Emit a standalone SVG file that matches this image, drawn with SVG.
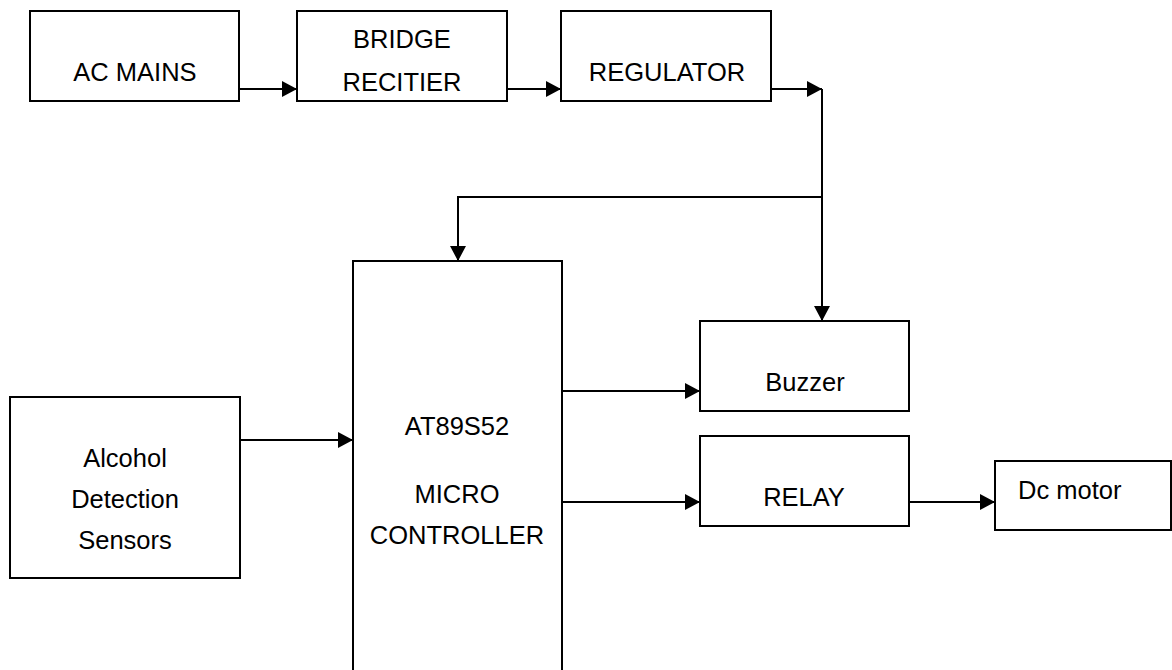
<svg xmlns="http://www.w3.org/2000/svg" width="1172" height="670" viewBox="0 0 1172 670">
<style>
.box{fill:#fff;stroke:#000;stroke-width:2}
.lbl{font-family:"Liberation Sans",Arial,sans-serif;font-size:25.5px;fill:#000;text-anchor:middle}
.conn{fill:none;stroke:#000;stroke-width:2}
</style>
<defs>
<marker id="ah" markerUnits="userSpaceOnUse" markerWidth="18" markerHeight="18" refX="15" refY="8" orient="auto">
<path d="M0,0 L15,8 L0,16 z" fill="#000"/>
</marker>
</defs>
<rect width="1172" height="670" fill="#fff"/>
<g id="connectors">
<path class="conn" d="M239,89 H297" marker-end="url(#ah)"/>
<path class="conn" d="M507,89 H561" marker-end="url(#ah)"/>
<path class="conn" d="M771,89 H822" marker-end="url(#ah)"/>
<path class="conn" d="M822,89 V321" marker-end="url(#ah)"/>
<path class="conn" d="M822,197 H458 V261" marker-end="url(#ah)"/>
<path class="conn" d="M240,440 H353" marker-end="url(#ah)"/>
<path class="conn" d="M562,391 H700" marker-end="url(#ah)"/>
<path class="conn" d="M562,502 H700" marker-end="url(#ah)"/>
<path class="conn" d="M909,502 H995" marker-end="url(#ah)"/>
</g>
<g id="ac-mains">
<rect class="box" x="30" y="11" width="209" height="90"/>
<text class="lbl" x="135" y="81">AC MAINS</text>
</g>
<g id="bridge-rectifier">
<rect class="box" x="297" y="11" width="210" height="90"/>
<text class="lbl" x="402" y="48">BRIDGE</text>
<text class="lbl" x="402" y="91">RECITIER</text>
</g>
<g id="regulator">
<rect class="box" x="561" y="11" width="210" height="90"/>
<text class="lbl" x="667" y="81">REGULATOR</text>
</g>
<g id="sensors">
<rect class="box" x="10" y="397" width="230" height="181"/>
<text class="lbl" x="125" y="467">Alcohol</text>
<text class="lbl" x="125" y="508">Detection</text>
<text class="lbl" x="125" y="549">Sensors</text>
</g>
<g id="microcontroller">
<rect class="box" x="353" y="261" width="209" height="430"/>
<text class="lbl" x="457" y="435">AT89S52</text>
<text class="lbl" x="457" y="503">MICRO</text>
<text class="lbl" x="457" y="544">CONTROLLER</text>
</g>
<g id="buzzer">
<rect class="box" x="700" y="321" width="209" height="90"/>
<text class="lbl" x="805" y="391">Buzzer</text>
</g>
<g id="relay">
<rect class="box" x="700" y="436" width="209" height="90"/>
<text class="lbl" x="804" y="506">RELAY</text>
</g>
<g id="dc-motor">
<rect class="box" x="995" y="461" width="176" height="69"/>
<text class="lbl" x="1018" y="499" style="text-anchor:start">Dc motor</text>
</g>
</svg>
